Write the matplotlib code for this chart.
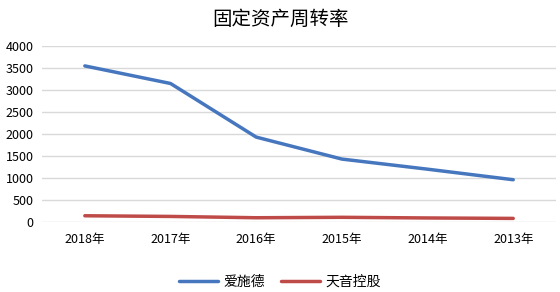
import matplotlib
matplotlib.use('Agg')
import matplotlib.pyplot as plt

plt.rcParams['font.family'] = ['Noto Sans CJK SC', 'DejaVu Sans']

years = ['2018年', '2017年', '2016年', '2015年', '2014年', '2013年']
aishide = [3550, 3150, 1930, 1430, 1200, 960]
tianyin = [140, 125, 95, 105, 90, 80]

fig = plt.figure(figsize=(5.6, 2.92), dpi=100)
ax = fig.add_axes([0.075, 0.24, 0.918, 0.602])

x = range(len(years))
ax.plot(x, aishide, color='#4677BE', linewidth=2.5, label='爱施德', solid_capstyle='round')
ax.plot(x, tianyin, color='#BE4B48', linewidth=2.5, label='天音控股', solid_capstyle='round')

ax.set_xlim(-0.5, len(years) - 0.5)
ax.set_ylim(0, 4000)
ax.set_yticks(range(0, 4001, 500))
ax.set_xticks(list(x))
ax.set_xticklabels(years, fontsize=9)
ax.tick_params(axis='y', labelsize=9, length=0, pad=6)
ax.tick_params(axis='x', length=0, pad=8)
ax.grid(axis='y', color='#D9D9D9', linewidth=1)
ax.set_axisbelow(True)
for s in ax.spines.values():
    s.set_visible(False)

fig.text(0.5, 0.935, '固定资产周转率', ha='center', va='center', fontsize=14)
fig.legend(loc='center', bbox_to_anchor=(0.5, 0.035), ncol=2, frameon=False,
           fontsize=10, handlelength=2.8, columnspacing=1.2, handletextpad=0.4)

fig.savefig('out.png', dpi=100)
